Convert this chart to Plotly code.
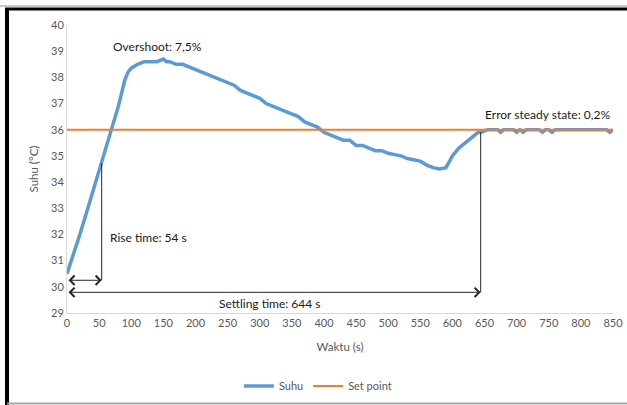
import plotly.graph_objects as go

# Temperature response (time in s, temperature in °C)
waktu = [0, 10, 20, 30, 40, 50, 60, 70, 80, 90, 95, 100, 110, 120, 130, 140, 150, 155,
         160, 170, 180, 190, 200, 210, 220, 230, 240, 250, 260, 270, 280, 290, 300,
         310, 320, 330, 340, 350, 360, 370, 380, 390, 400, 410, 420, 430, 440, 450,
         460, 470, 480, 490, 500, 510, 520, 530, 540, 550, 560, 570, 580, 590, 600,
         610, 620, 630, 640, 645, 650, 655, 660, 665, 670, 675, 680, 685, 690, 695,
         700, 705, 710, 715, 720, 725, 730, 735, 740, 745, 750, 755, 760, 765, 770,
         775, 780, 785, 790, 795, 800, 805, 810, 815, 820, 825, 830, 835, 840, 845, 850]
suhu = [30.5, 31.2, 32.0, 32.8, 33.6, 34.4, 35.2, 36.0, 36.9, 37.9, 38.2, 38.35, 38.5, 38.6,
        38.6, 38.6, 38.7, 38.6, 38.6, 38.5, 38.5, 38.4, 38.3, 38.2, 38.1, 38.0, 37.9, 37.8,
        37.7, 37.5, 37.4, 37.3, 37.2, 37.0, 36.9, 36.8, 36.7, 36.6, 36.5, 36.3, 36.2, 36.1,
        35.9, 35.8, 35.7, 35.6, 35.6, 35.4, 35.4, 35.3, 35.2, 35.2, 35.1, 35.05, 35.0, 34.9,
        34.85, 34.8, 34.65, 34.55, 34.5, 34.55, 35.0, 35.3, 35.5, 35.7, 35.9, 35.9, 35.95,
        36.0, 36.0, 36.0, 36.0, 35.9, 36.0, 36.0, 36.0, 36.0, 35.9, 36.0, 35.9, 36.0, 36.0,
        36.0, 36.0, 36.0, 35.9, 36.0, 36.0, 35.9, 36.0, 36.0, 36.0, 36.0, 36.0, 36.0, 36.0,
        36.0, 36.0, 36.0, 36.0, 36.0, 36.0, 36.0, 36.0, 36.0, 36.0, 35.9, 36.0]

setpoint_waktu = [0, 850]
setpoint = [36, 36]

rise_time = 54
settling_time = 644

x_ticks = list(range(0, 851, 50))
y_ticks = list(range(29, 41))

FONT = "Lato"
GREY = "#595959"
INK = "#1a1a1a"

L, R, T, B, W, H = 67, 14, 25, 92, 627, 405
PW, PH = W - L - R, H - T - B


def px(xp):
    return (xp - L) / PW


def py(yp):
    return (H - B - yp) / PH


def suhu_at(t):
    for i in range(len(waktu) - 1):
        if waktu[i] <= t <= waktu[i + 1]:
            f = (t - waktu[i]) / (waktu[i + 1] - waktu[i])
            return suhu[i] + f * (suhu[i + 1] - suhu[i])
    return suhu[-1]


fig = go.Figure()
fig.add_trace(go.Scatter(x=waktu, y=suhu, mode="lines", name="Suhu",
                         line=dict(color="#5B9BD5", width=3.5)))
fig.add_trace(go.Scatter(x=setpoint_waktu, y=setpoint, mode="lines", name="Set point",
                         line=dict(color="#ED7D31", width=2)))

rise_y = 30.25
settle_y = 29.79

shapes = [
    # marker lines for rise and settling time
    dict(type="line", xref="x", yref="y", x0=rise_time, x1=rise_time,
         y0=rise_y, y1=suhu_at(rise_time), line=dict(color="#262626", width=1)),
    dict(type="line", xref="x", yref="y", x0=settling_time, x1=settling_time,
         y0=settle_y, y1=suhu_at(settling_time), line=dict(color="#262626", width=1)),
    # page frame
    dict(type="line", xref="paper", yref="paper", x0=px(0), x1=px(W), y0=py(6), y1=py(6),
         line=dict(color="#B4B9C6", width=1.5)),
    dict(type="line", xref="paper", yref="paper", x0=px(5), x1=px(W), y0=py(9), y1=py(9),
         line=dict(color="#000000", width=3)),
    dict(type="line", xref="paper", yref="paper", x0=px(7), x1=px(7), y0=py(8), y1=py(H),
         line=dict(color="#000000", width=4)),
    dict(type="line", xref="paper", yref="paper", x0=px(7), x1=px(W), y0=py(403.5), y1=py(403.5),
         line=dict(color="#A6A6A6", width=2)),
]

annotations = [
    dict(x=rise_time, y=rise_y, ax=0, ay=rise_y, xref="x", yref="y", axref="x", ayref="y",
         text="", showarrow=True, arrowhead=4, startarrowhead=4, arrowside="end+start",
         arrowsize=1.8, startarrowsize=1.8, arrowwidth=1, arrowcolor="#262626",
         standoff=0, startstandoff=0),
    dict(x=settling_time, y=settle_y, ax=0, ay=settle_y, xref="x", yref="y", axref="x", ayref="y",
         text="", showarrow=True, arrowhead=4, startarrowhead=4, arrowside="end+start",
         arrowsize=1.8, startarrowsize=1.8, arrowwidth=1, arrowcolor="#262626",
         standoff=0, startstandoff=0),
    dict(x=68, y=39.19, xref="x", yref="y", text="Overshoot: 7,5%", showarrow=False,
         xanchor="left", yanchor="middle", font=dict(family=FONT, size=12, color=INK)),
    dict(x=64, y=31.9, xref="x", yref="y", text=f"Rise time: {rise_time} s", showarrow=False,
         xanchor="left", yanchor="middle", font=dict(family=FONT, size=12, color=INK)),
    dict(x=316, y=29.38, xref="x", yref="y", text=f"Settling time: {settling_time} s",
         showarrow=False, xanchor="center", yanchor="middle",
         font=dict(family=FONT, size=12, color=INK)),
    dict(x=648, y=36.6, xref="x", yref="y", text="Error steady state: 0,2%", showarrow=False,
         xanchor="left", yanchor="middle", font=dict(family=FONT, size=12, color=INK)),
]

fig.update_layout(
    width=W, height=H, autosize=False,
    margin=dict(l=L, r=R, t=T, b=B, autoexpand=False),
    paper_bgcolor="white", plot_bgcolor="white",
    font=dict(family=FONT, size=11, color=GREY),
    showlegend=True,
    legend=dict(orientation="h", xref="container", yref="container",
                x=0.507, y=(H - 386) / H, xanchor="center", yanchor="middle",
                font=dict(family=FONT, size=11, color=GREY), itemwidth=30),
    xaxis=dict(range=[0, 850], tickvals=x_ticks, showgrid=False, zeroline=False,
               showline=True, linecolor="#D9D9D9", linewidth=1, automargin=False,
               tickfont=dict(family=FONT, size=11, color=GREY),
               title=dict(text="Waktu (s)", standoff=14,
                          font=dict(family=FONT, size=11.5, color=GREY))),
    yaxis=dict(range=[29, 40], tickvals=y_ticks, showgrid=False, zeroline=False,
               showline=True, linecolor="#D9D9D9", linewidth=1, automargin=False,
               tickfont=dict(family=FONT, size=11, color=GREY),
               title=dict(text="Suhu (°C)", standoff=10,
                          font=dict(family=FONT, size=11.5, color=GREY))),
    shapes=shapes,
    annotations=annotations,
)

fig.write_html("out.html")
